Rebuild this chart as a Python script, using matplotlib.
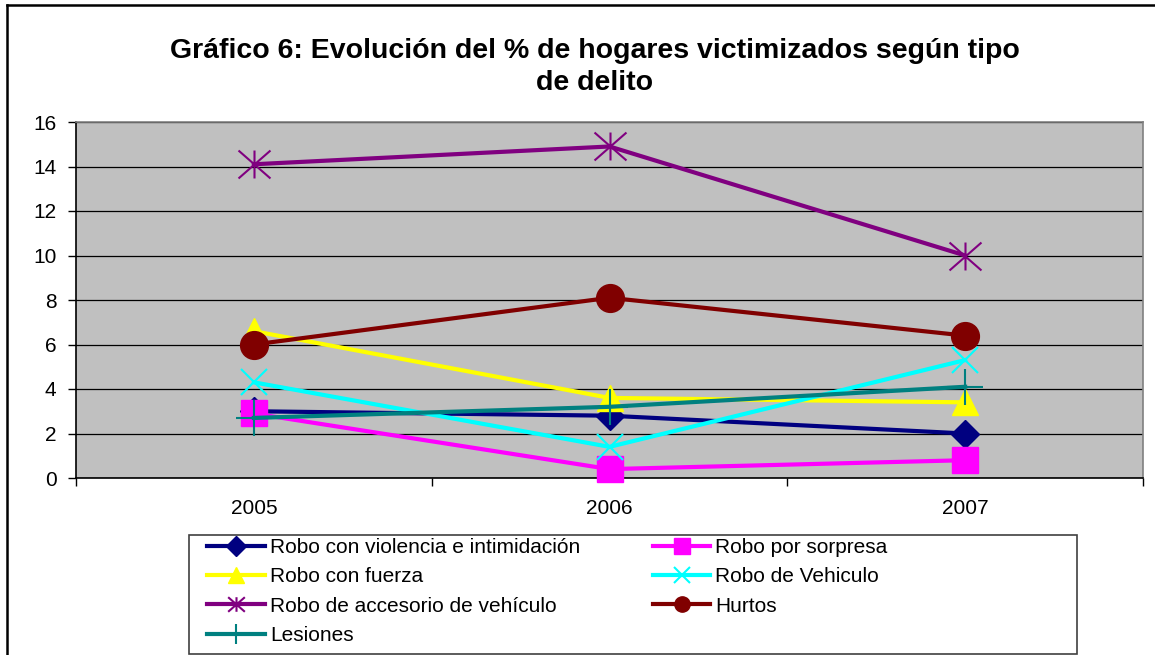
import matplotlib
matplotlib.use("Agg")
import matplotlib.pyplot as plt
from matplotlib.lines import Line2D
from matplotlib.patches import Rectangle
from matplotlib.path import Path

plt.rcParams['font.family'] = ['Liberation Sans', 'DejaVu Sans']

years = ['2005', '2006', '2007']
violencia = [3.0, 2.8, 2.0]
sorpresa = [2.9, 0.4, 0.8]
fuerza = [6.6, 3.6, 3.4]
vehiculo = [4.3, 1.4, 5.3]
accesorio = [14.1, 14.9, 10.0]
hurtos = [6.0, 8.1, 6.4]
lesiones = [2.7, 3.2, 4.1]

labels = ['Robo con violencia e intimidación', 'Robo por sorpresa', 'Robo con fuerza',
          'Robo de Vehiculo', 'Robo de accesorio de vehículo', 'Hurtos', 'Lesiones']
title = 'Gráfico 6: Evolución del % de hogares victimizados según tipo\nde delito'
yticks = [0, 2, 4, 6, 8, 10, 12, 14, 16]

star = Path([(-1, -0.875), (1, 0.875), (-1, 0.875), (1, -0.875), (0, -0.875), (0, 0.875)],
            [Path.MOVETO, Path.LINETO, Path.MOVETO, Path.LINETO, Path.MOVETO, Path.LINETO])

series = [
    (violencia, '#000080', 'D', 14, 10, 1.0),
    (sorpresa, '#FF00FF', 's', 19, 11, 1.0),
    (fuerza, '#FFFF00', '^', 19, 12, 1.0),
    (vehiculo, '#00FFFF', 'x', 19, 11, 1.5),
    (accesorio, '#800080', star, 23, 12, 1.5),
    (hurtos, '#800000', 'o', 20, 11, 1.0),
    (lesiones, '#008080', '+', 26, 14, 1.5),
]

W, H = 1155, 655
fig = plt.figure(figsize=(W / 100, H / 100), dpi=100)
ax = fig.add_axes([76 / W, 1 - 478 / H, (1143 - 76) / W, (478 - 122) / H])
ax.set_facecolor('#C0C0C0')

x = list(range(len(years)))
handles = []
for (vals, col, mk, ms, lms, mew), lab in zip(series, labels):
    ax.plot(x, vals, color=col, lw=3, marker=mk, ms=ms, mfc=col, mec=col, mew=mew,
            solid_joinstyle='miter', clip_on=False, zorder=3)
    handles.append(Line2D([], [], color=col, lw=3, marker=mk, ms=lms, mfc=col, mec=col,
                          mew=mew, label=lab))

ax.set_xlim(-0.5, 2.5)
ax.set_ylim(0, 16)
ax.set_yticks(yticks)
ax.set_yticklabels([str(v) for v in yticks])
ax.set_xticks([-0.5, 0.5, 1.5, 2.5])
ax.set_xticklabels([])
ax.set_xticks(x, minor=True)
ax.set_xticklabels(years, minor=True)
ax.tick_params(axis='x', which='minor', length=0, pad=15, labelsize=15)
ax.tick_params(axis='x', which='major', length=6, width=1, direction='out', color='black')
ax.tick_params(axis='y', length=6, width=1, direction='out', pad=8, labelsize=15)
ax.yaxis.grid(True, color='black', lw=0.9)
ax.set_axisbelow(True)
for s in ['top', 'right']:
    ax.spines[s].set_color('#808080')
    ax.spines[s].set_linewidth(1.2)
for s in ['left', 'bottom']:
    ax.spines[s].set_color('black')
    ax.spines[s].set_linewidth(1.2)

fig.text(595 / W, 1 - 67 / H, title, ha='center', va='center', fontsize=20.5,
         fontweight='bold', linespacing=1.35)

# legend box
fig.add_artist(Rectangle((189 / W, 1 - 654 / H), (1077 - 189) / W, (654 - 535) / H,
                         transform=fig.transFigure, facecolor='white', edgecolor='#404040',
                         lw=1.2, zorder=1))
order = [0, 2, 4, 6, 1, 3, 5]
leg = fig.legend([handles[i] for i in order], [labels[i] for i in order],
                 loc='upper left', bbox_to_anchor=(201 / W, 1 - 532 / H), ncol=2,
                 frameon=False, fontsize=15, handlelength=2.75, handletextpad=0.25,
                 columnspacing=3.5, labelspacing=0.49, borderaxespad=0, borderpad=0.3)
leg.set_zorder(2)

# figure border (partial)
fig.add_artist(Line2D([7 / W, 7 / W], [0, 1 - 5 / H], transform=fig.transFigure,
                      color='black', lw=1.8))
fig.add_artist(Line2D([7 / W, 1], [1 - 5 / H, 1 - 5 / H], transform=fig.transFigure,
                      color='black', lw=1.8))

fig.savefig('out.png', dpi=100)
